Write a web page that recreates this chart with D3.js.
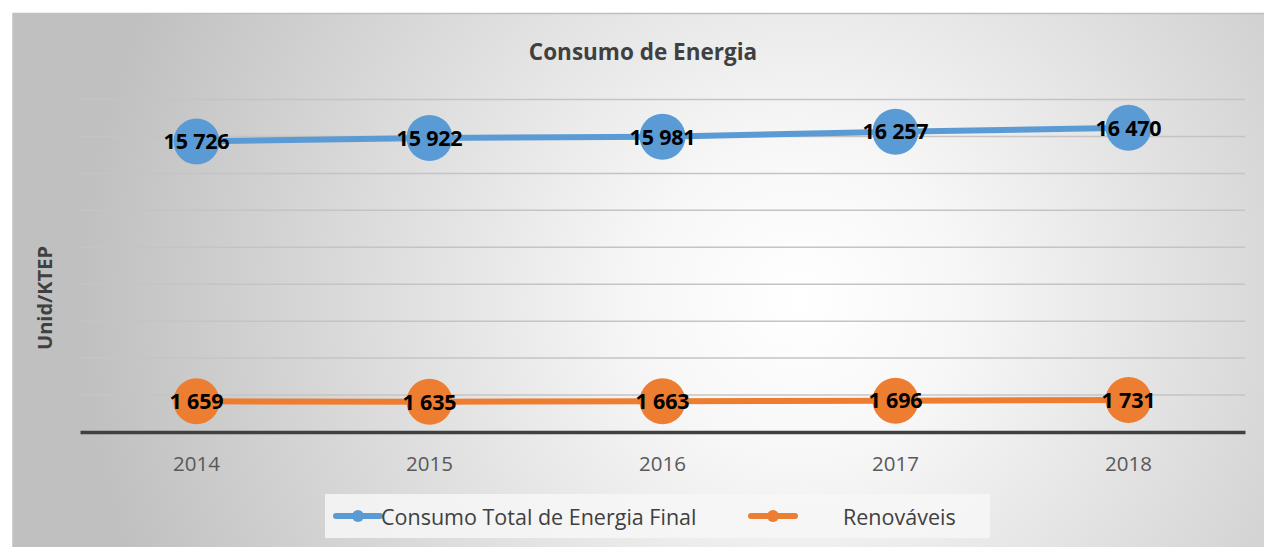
<!DOCTYPE html>
<html><head><meta charset="utf-8">
<script src="https://cdn.jsdelivr.net/npm/d3@7"></script>
<style>html,body{margin:0;padding:0;background:#fff;overflow:hidden}</style>
</head><body>
<svg id="chart" width="1264" height="547"></svg>
<script>
const years = ["2014","2015","2016","2017","2018"];
const totalValues = [15726, 15922, 15981, 16257, 16470];
const renewValues = [1659, 1635, 1663, 1696, 1731];
const seriesNames = ["Consumo Total de Energia Final", "Renováveis"];
const seriesColors = ["#5b9bd5", "#ed7d31"];
const yTicks = [0, 2000, 4000, 6000, 8000, 10000, 12000, 14000, 16000, 18000];
const chartTitle = "Consumo de Energia";
const yTitle = "Unid/KTEP";

(function(){
const svg = d3.select("#chart");
const defs = svg.append("defs");
const grad = defs.append("radialGradient").attr("id","bg")
  .attr("gradientUnits","userSpaceOnUse")
  .attr("cx",800).attr("cy",300).attr("r",720);
grad.append("stop").attr("offset","0").attr("stop-color","#ffffff");
grad.append("stop").attr("offset","0.22").attr("stop-color","#f7f7f7");
grad.append("stop").attr("offset","1").attr("stop-color","#c0c0c0");

svg.append("rect").attr("x",12).attr("y",13).attr("width",1252).attr("height",534)
  .attr("fill","url(#bg)");
svg.append("line").attr("x1",12).attr("x2",1264).attr("y1",13.5).attr("y2",13.5)
  .attr("stroke","#bfbfbf").attr("stroke-width",1.5);
svg.append("line").attr("x1",12.5).attr("x2",12.5).attr("y1",13).attr("y2",547)
  .attr("stroke","#d0d0d0").attr("stroke-width",1);

const pl = 80, pr = 1245, pt = 99.5, pb = 432;
const x = d3.scaleBand().domain(years).range([pl, pr]);
const y = d3.scaleLinear().domain([0, 18000]).range([pb, pt]);
const cx = d => x(d) + x.bandwidth()/2;

svg.append("g").selectAll("line").data(yTicks.slice(1)).join("line")
  .attr("x1",pl).attr("x2",pr)
  .attr("y1",d=>y(d)).attr("y2",d=>y(d))
  .attr("stroke","#c4c4c4").attr("stroke-width",1.5);

const xAxis = svg.append("g").attr("transform",`translate(0,${pb})`)
  .call(d3.axisBottom(x).tickSize(0).tickPadding(24));
xAxis.select(".domain").attr("stroke","#404040").attr("stroke-width",3.5);
xAxis.selectAll("text").attr("font-family","'Open Sans', sans-serif")
  .attr("font-size",20.5).attr("fill","#595959");

svg.append("text").attr("x",643).attr("y",60).attr("text-anchor","middle")
  .attr("font-family","'Open Sans', sans-serif").attr("font-weight","bold")
  .attr("font-size",22.5).attr("fill","#404040").text(chartTitle);

svg.append("text").attr("transform","translate(52,298) rotate(-90)")
  .attr("text-anchor","middle")
  .attr("font-family","'Open Sans', sans-serif").attr("font-weight","bold")
  .attr("font-size",20).attr("fill","#404040").text(yTitle);

const series = [totalValues, renewValues];
const line = d3.line().x((d,i)=>cx(years[i])).y(d=>y(d));
series.forEach((vals, si) => {
  const g = svg.append("g");
  g.append("path").datum(vals).attr("d",line).attr("fill","none")
    .attr("stroke",seriesColors[si]).attr("stroke-width",6);
  g.selectAll("circle").data(vals).join("circle")
    .attr("cx",(d,i)=>cx(years[i])).attr("cy",d=>y(d)).attr("r",23)
    .attr("fill",seriesColors[si]);
  g.selectAll("text").data(vals).join("text")
    .attr("x",(d,i)=>cx(years[i])).attr("y",d=>y(d)).attr("dy","0.36em")
    .attr("text-anchor","middle")
    .attr("font-family","'Open Sans', sans-serif").attr("font-weight","bold")
    .attr("font-size",21.5).attr("fill","#000").attr("letter-spacing","-0.2")
    .text(d => d3.format(",")(d).replace(/,/g," "));
});

svg.append("rect").attr("x",325).attr("y",494).attr("width",665).attr("height",44)
  .attr("fill","#f7f7f7").attr("opacity",0.85);
const legX = [336, 751], legTextX = [381, 843];
seriesNames.forEach((n, i) => {
  svg.append("line").attr("x1",legX[i]).attr("x2",legX[i]+44).attr("y1",516).attr("y2",516)
    .attr("stroke",seriesColors[i]).attr("stroke-width",6).attr("stroke-linecap","round");
  svg.append("circle").attr("cx",legX[i]+22).attr("cy",516).attr("r",6).attr("fill",seriesColors[i]);
  svg.append("text").attr("x",legTextX[i]).attr("y",517).attr("dy","0.35em")
    .attr("font-family","'Open Sans', sans-serif").attr("font-size",21.5).attr("fill","#404040")
    .text(n);
});
})();
</script>
</body></html>
